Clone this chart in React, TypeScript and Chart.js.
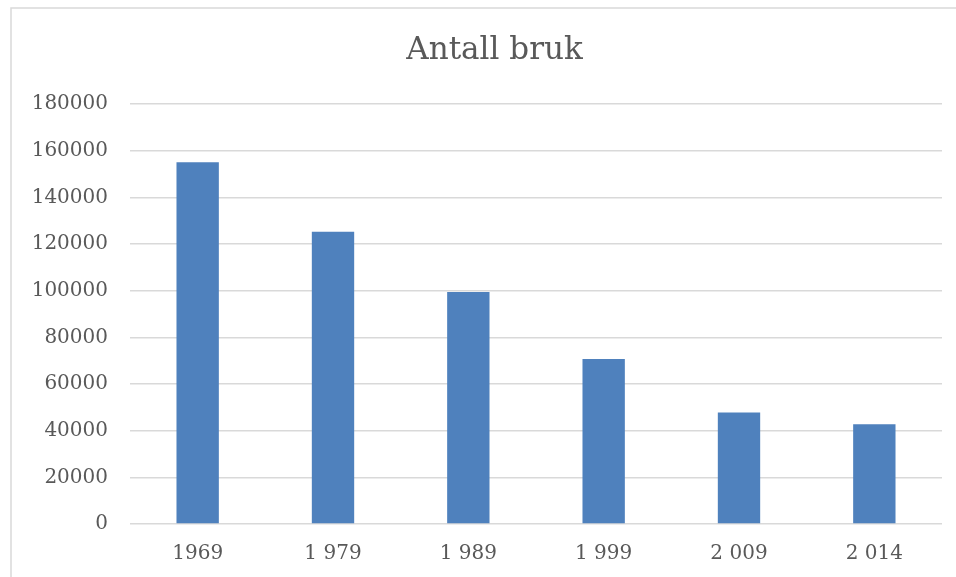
import React, { useEffect, useRef } from "react";
import { Chart, registerables } from "chart.js";

Chart.register(...registerables);

const titleText = "Antall bruk";
const categories = ["1969", "1 979", "1 989", "1 999", "2 009", "2 014"];
const values = [155000, 125300, 99400, 70700, 47800, 42800];
const yMin = 0;
const yMax = 180000;
const yStep = 20000;

const FONT = "'DejaVu Serif', serif";
const TEXT_COLOR = "#595959";
const GRID_COLOR = "#d9d9d9";
const BAR_COLOR = "#4F81BD";
const FRAME_LEFT = 11;
const FRAME_TOP = 8;
const FRAME_RIGHT = 978;

const frameAndTitle = {
  id: "frameAndTitle",
  beforeDraw(chart: any) {
    const ctx = chart.ctx;
    ctx.save();
    ctx.fillStyle = "#ffffff";
    ctx.fillRect(0, 0, chart.width, chart.height);
    ctx.strokeStyle = GRID_COLOR;
    ctx.lineWidth = 1.5;
    ctx.beginPath();
    ctx.moveTo(FRAME_LEFT, chart.height + 5);
    ctx.lineTo(FRAME_LEFT, FRAME_TOP);
    ctx.lineTo(chart.width + 5, FRAME_TOP);
    ctx.stroke();
    ctx.restore();
  },
  afterDraw(chart: any) {
    const ctx = chart.ctx;
    ctx.save();
    ctx.fillStyle = TEXT_COLOR;
    ctx.font = `31px ${FONT}`;
    ctx.textAlign = "center";
    ctx.textBaseline = "alphabetic";
    ctx.fillText(titleText, (FRAME_LEFT + FRAME_RIGHT) / 2, 59);
    ctx.restore();
  },
};

export default function App() {
  const canvasRef = useRef<HTMLCanvasElement | null>(null);

  useEffect(() => {
    if (!canvasRef.current) return;
    const chart = new Chart(canvasRef.current, {
      type: "bar",
      data: {
        labels: categories,
        datasets: [
          {
            label: titleText,
            data: values,
            backgroundColor: BAR_COLOR,
            borderWidth: 0,
            categoryPercentage: 1,
            barPercentage: 0.313,
          },
        ],
      },
      plugins: [frameAndTitle],
      options: {
        responsive: false,
        animation: false,
        maintainAspectRatio: false,
        layout: { padding: { top: 104, right: 14, bottom: -7, left: 0 } },
        plugins: {
          legend: { display: false },
          tooltip: { enabled: false },
          title: { display: false },
        },
        scales: {
          x: {
            grid: { display: false, drawTicks: false },
            border: { display: false },
            ticks: {
              color: TEXT_COLOR,
              font: { family: FONT, size: 20 },
              padding: 18,
              maxRotation: 0,
            },
          },
          y: {
            min: yMin,
            max: yMax,
            afterFit(scale: any) {
              scale.width = 130;
            },
            grid: {
              color: GRID_COLOR,
              lineWidth: 1.5,
              drawTicks: false,
            },
            border: { display: false },
            ticks: {
              stepSize: yStep,
              color: TEXT_COLOR,
              font: { family: FONT, size: 20 },
              padding: 22,
              callback: (v: any) => String(v),
            },
          },
        },
      },
    });
    return () => chart.destroy();
  }, []);

  return (
    <div style={{ position: "fixed", left: 0, top: 0, width: 956, height: 577, background: "#fff" }}>
      <canvas ref={canvasRef} width={956} height={577} style={{ display: "block" }} />
    </div>
  );
}
